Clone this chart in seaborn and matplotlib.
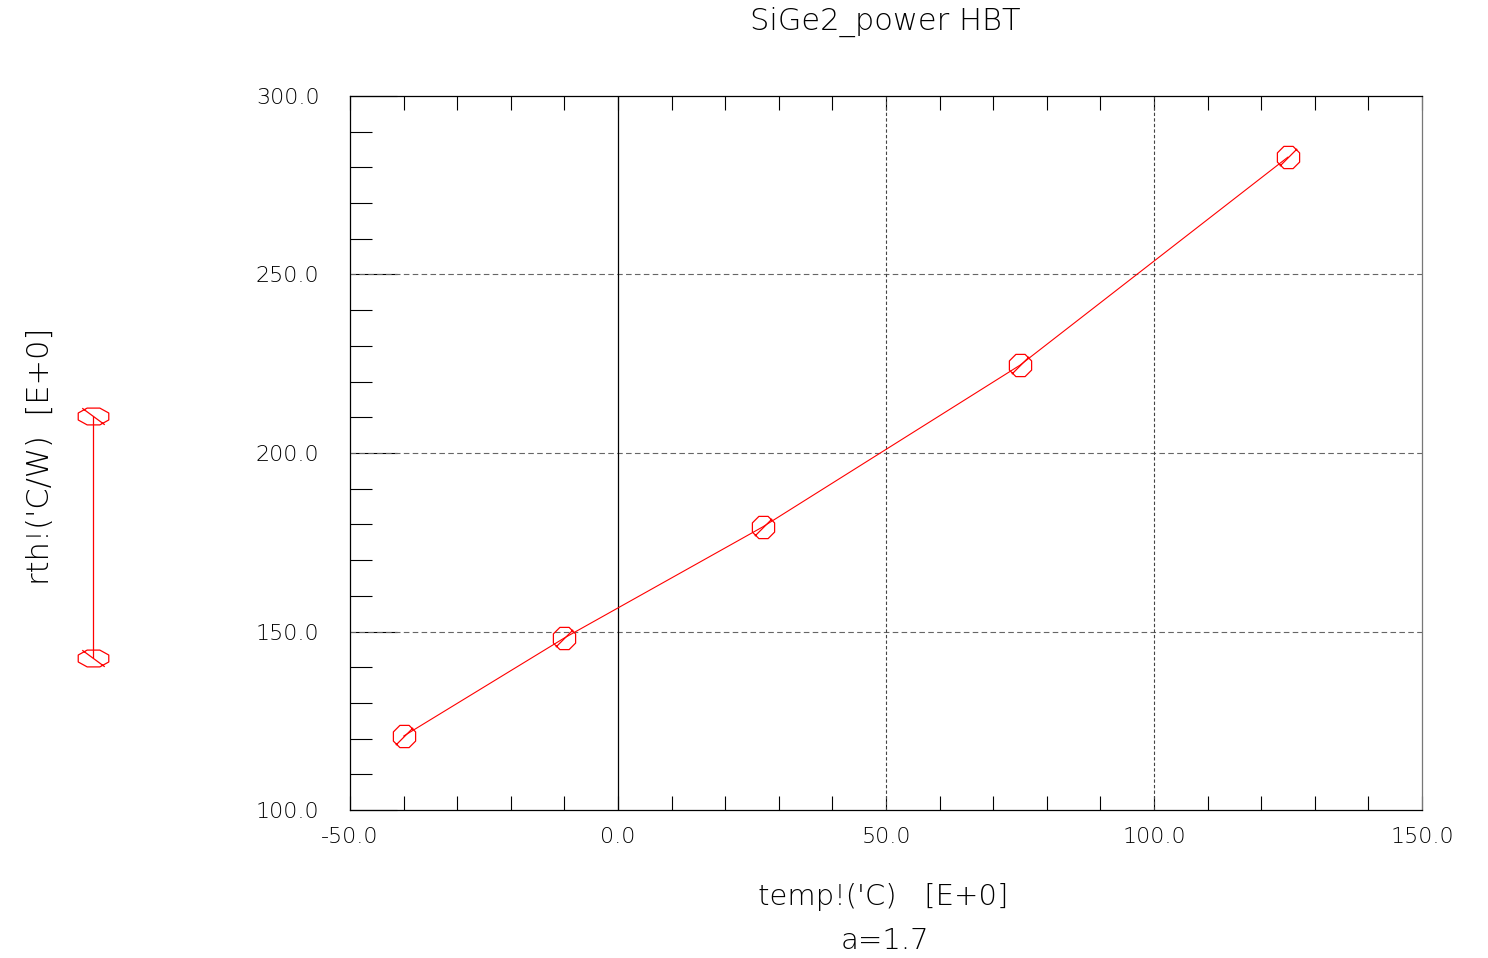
import numpy as np
import pandas as pd
import matplotlib
matplotlib.use("Agg")
import matplotlib.pyplot as plt
from matplotlib.path import Path
from matplotlib.lines import Line2D
import seaborn as sns

# ---- data ----
temp = [-40, -10, 27, 75, 125]
rth = [120.7, 148.2, 179.3, 224.6, 282.9]
x_ticks = [-50, 0, 50, 100, 150]
y_ticks = [100, 150, 200, 250, 300]
x_ticklabels = ["-50.0", "0.0", "50.0", "100.0", "150.0"]
y_ticklabels = ["100.0", "150.0", "200.0", "250.0", "300.0"]
title = "SiGe2_power HBT"
xlabel = "temp!('C)   [E+0]"
ylabel = "rth!('C/W)  [E+0]"
note = "a=1.7"

sns.set_theme(style="white")
plt.rcParams['font.family'] = ['DejaVu Sans']
plt.rcParams['text.color'] = 'black'

W, H = 1488, 958
fig = plt.figure(figsize=(W / 100, H / 100), dpi=100)
ax = fig.add_axes([350 / W, 1 - 810 / H, (1422 - 350) / W, (810 - 96) / H])

# octagon marker with slash
ang = np.deg2rad(22.5 + 45 * np.arange(8))
oct_pts = np.c_[np.cos(ang), np.sin(ang)]
verts = list(oct_pts) + [oct_pts[0]] + [(-0.72, -0.72), (0.72, 0.72)]
codes = [Path.MOVETO] + [Path.LINETO] * 7 + [Path.CLOSEPOLY] + [Path.MOVETO, Path.LINETO]
oct_marker = Path(verts, codes)

# stretched legend marker (rotated), slash top-left to bottom-right
leg_pts = np.c_[oct_pts[:, 0] * 1.0, oct_pts[:, 1] * 0.55]
lverts = list(leg_pts) + [leg_pts[0]] + [(-0.68, 0.5), (0.68, -0.5)]
leg_marker = Path(lverts, codes)

df = pd.DataFrame({"temp": temp, "rth": rth})
sns.lineplot(data=df, x="temp", y="rth", ax=ax, color="red", linewidth=0.8,
             marker=oct_marker, markersize=16, markerfacecolor="none",
             markeredgecolor="red", markeredgewidth=0.9, zorder=5)

ax.set_xlim(-50, 150)
ax.set_ylim(100, 300)

# grid lines
for yv in [150, 200, 250]:
    ax.axhline(yv, color="#666666", linestyle=(0, (5, 3)), linewidth=0.8, zorder=1)
ax.axvline(0, color="black", linewidth=0.9, zorder=1)
for xv in [50, 100]:
    ax.axvline(xv, color="#444444", linestyle=(0, (3, 2)), linewidth=0.8, zorder=1)

# ticks
ax.set_xticks(x_ticks)
ax.set_xticklabels(x_ticklabels)
ax.set_yticks(y_ticks)
ax.set_yticklabels(y_ticklabels)
ax.set_xticks(np.arange(-50, 151, 10), minor=True)
ax.set_yticks(np.arange(100, 301, 10), minor=True)
ax.tick_params(axis="x", which="both", direction="in", bottom=True, top=True,
               length=10, width=0.8, color="black", pad=12, labelcolor="black")
ax.tick_params(axis="y", which="minor", direction="in", left=True, right=False,
               length=16, width=0.8, color="black")
ax.tick_params(axis="y", which="major", direction="in", left=True, right=False,
               length=34, width=0.8, color="black", pad=22, labelcolor="black")
for lab in ax.get_xticklabels() + ax.get_yticklabels():
    lab.set_fontsize(16)
    lab.set_color("black")
    lab.set_fontweight("light")

for side in ["left", "bottom", "top"]:
    ax.spines[side].set_color("black")
    ax.spines[side].set_linewidth(0.9)
ax.spines["right"].set_color("#777777")
ax.spines["right"].set_linewidth(0.9)

ax.set_xlabel("")
ax.set_ylabel("")

# texts
fig.text(885 / W, 1 - 22 / H, title, ha="center", va="center", fontsize=22,
         fontweight="light", color="black")
fig.text(883 / W, 1 - 897 / H, xlabel, ha="center", va="center", fontsize=21,
         fontweight="light", color="black")
fig.text(885 / W, 1 - 941 / H, note, ha="center", va="center", fontsize=21,
         fontweight="light", color="black")
fig.text(40 / W, 1 - 456 / H, ylabel, ha="center", va="center", rotation=90, fontsize=22,
         fontweight="light", color="black")

# legend sample (rotated with the y label)
fig.add_artist(Line2D([93 / W, 93 / W], [1 - 416 / H, 1 - 658 / H], transform=fig.transFigure,
                      color="red", linewidth=0.9, marker=leg_marker, markersize=22,
                      markerfacecolor="none", markeredgecolor="red", markeredgewidth=0.9))

fig.savefig("out.png", dpi=100, facecolor="white")
